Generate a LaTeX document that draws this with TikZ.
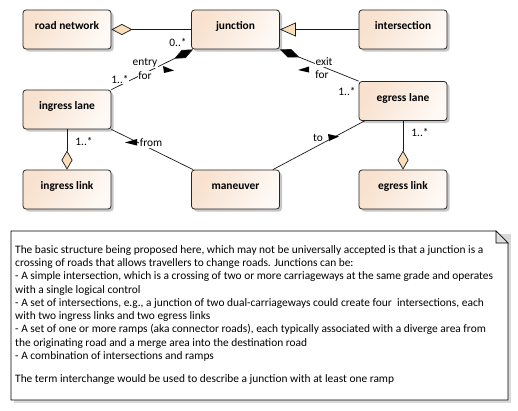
\documentclass[tikz,border=0pt]{standalone}
\usepackage{fontspec}
\setmainfont{Carlito}
\usetikzlibrary{arrows.meta,shadows,calc}
\definecolor{peach}{RGB}{248,225,206}
\definecolor{peachlight}{RGB}{254,249,245}
\definecolor{tanfill}{RGB}{250,222,185}
\definecolor{foldgray}{RGB}{222,222,222}
\tikzset{
  umlbox/.style={draw=black!85, line width=0.8pt, rounded corners=3pt,
    minimum width=88pt, minimum height=39pt, inner sep=0pt,
    left color=peach, right color=peachlight, shading angle=60,
    drop shadow={shadow xshift=2.5pt, shadow yshift=-2.5pt, fill=black!22, opacity=1},
    font=\fontsize{11.4}{13}\selectfont\bfseries, text height=9pt, text depth=9pt},
  conn/.style={line width=0.7pt, draw=black!90},
  lbl/.style={font=\fontsize{11.4}{13}\selectfont, fill=white, inner sep=0.6pt},
  mult/.style={font=\fontsize{11.4}{13}\selectfont, inner sep=0.5pt},
  dirtip/.style={fill=black, draw=none},
}
\begin{document}
\begin{tikzpicture}[x=1pt,y=-1pt]
\useasboundingbox (0,0) rectangle (518,410);
% boxes
\node[umlbox] (roadnet) at (67,29.5) {road network};
\node[umlbox] (junction) at (235.5,29.5) {junction};
\node[umlbox] (intersection) at (403,29.5) {intersection};
\node[umlbox] (ingresslane) at (67,109.5) {ingress lane};
\node[umlbox] (egresslane) at (403,101) {egress lane};
\node[umlbox] (ingresslink) at (67,189.5) {ingress link};
\node[umlbox] (maneuver) at (235.5,189.5) {maneuver};
\node[umlbox] (egresslink) at (403,189.5) {egress link};
% connectors
\draw[conn, -{Diamond[length=21pt,width=11pt,fill=tanfill,line width=0.7pt]}] (junction.west) -- (roadnet.east);
\draw[conn, -{Triangle[length=16pt,width=14pt,fill=tanfill,line width=0.7pt]}] (intersection.west) -- (junction.east);
\draw[conn, -{Diamond[length=21pt,width=9pt,fill=black]}] (ingresslane.north east) -- ([xshift=2pt]junction.south west);
\draw[conn, -{Diamond[length=21pt,width=9pt,fill=black]}] (egresslane.north west) -- (junction.south east);
\draw[conn] (ingresslane.south east) -- ([xshift=2pt]maneuver.north west);
\draw[conn] ([xshift=-7pt]maneuver.north east) -- ([xshift=6pt]egresslane.south west);
\draw[conn, -{Diamond[length=19pt,width=11pt,fill=tanfill,line width=0.7pt]}] (ingresslane.south) -- (ingresslink.north);
\draw[conn, -{Diamond[length=19pt,width=11pt,fill=tanfill,line width=0.7pt]}] (egresslane.south) -- (egresslink.north);
% labels
\node[mult] (m1) at (178,42) {0..*};
\node[lbl] (entry) at (145,63) {entry};
\node[lbl] (for1) at (145,76) {for};
\node[lbl] (m2) at (120,79) {1..*};
\node[lbl] (exit) at (324,62) {exit};
\node[lbl] (for2) at (322,75) {for};
\node[mult] (m3) at (347,91) {1..*};
\node[lbl] (from) at (151,143) {from};
\node[lbl] (to) at (318,138) {to};
\node[mult] (m4) at (84,141) {1..*};
\node[mult] (m5) at (420,132) {1..*};
% direction triangles
\fill[dirtip] (163,66) -- (174,70.5) -- (164,73) -- cycle;
\fill[dirtip] (309,66.5) -- (298,70) -- (309,72.5) -- cycle;
\fill[dirtip] (137,139) -- (125,142.5) -- (137,145.5) -- cycle;
\fill[dirtip] (328,134) -- (339,136.5) -- (329,141) -- cycle;
% note
\fill[black!15] (14,234) -- (511,234) -- (511,403) -- (14,403) -- cycle;
\draw[line width=0.8pt, fill=white] (11,231) -- (496,231) -- (508,243) -- (508,400) -- (11,400) -- cycle;
\draw[line width=0.6pt, fill=foldgray] (496,231) -- (496,243) -- (508,243) -- cycle;
\node[anchor=north west, align=left, inner sep=0pt, font=\fontsize{11.4}{13.3}\selectfont] (note) at (15,245) {%
The basic structure being proposed here, which may not be universally accepted is that a junction is a\\
crossing of roads that allows travellers to change roads. Junctions can be:\\
- A simple intersection, which is a crossing of two or more carriageways at the same grade and operates\\
with a single logical control\\
- A set of intersections, e.g., a junction of two dual-carriageways could create four\ \ intersections, each\\
with two ingress links and two egress links\\
- A set of one or more ramps (aka connector roads), each typically associated with a diverge area from\\
the originating road and a merge area into the destination road\\
- A combination of intersections and ramps\\[10pt]
The term interchange would be used to describe a junction with at least one ramp};
\end{tikzpicture}
\end{document}
